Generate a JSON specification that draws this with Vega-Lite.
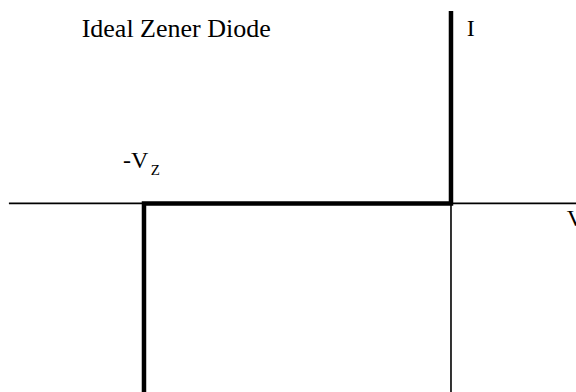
{
  "$schema": "https://vega.github.io/schema/vega-lite/v6.json",
  "width": 576,
  "height": 392,
  "autosize": {"type": "none"},
  "padding": 0,
  "background": "white",
  "config": {"view": {"stroke": null}, "text": {"font": "Times New Roman"}},
  "datasets": {
    "axes": [
      {"name": "V axis", "v": -7.2, "v2": 2.04, "i": 0, "i2": 0},
      {"name": "I axis", "v": 0, "v2": 0, "i": -2.94, "i2": 3.0}
    ],
    "curve": [
      {"order": 1, "v": -5, "i": -2.94},
      {"order": 2, "v": -5, "i": 0},
      {"order": 3, "v": 0, "i": 0},
      {"order": 4, "v": 0, "i": 3.0}
    ],
    "labels": [
      {"kind": "title", "text": "Ideal Zener Diode", "v": -6.015, "i": 2.6},
      {"kind": "main", "text": "I", "v": 0.256, "i": 2.615},
      {"kind": "main", "text": "V", "v": 1.884, "i": -0.351},
      {"kind": "main", "text": "-V", "v": -5.342, "i": 0.553},
      {"kind": "sub", "text": "Z", "v": -4.891, "i": 0.436}
    ]
  },
  "encoding": {
    "x": {"field": "v", "type": "quantitative", "scale": {"domain": [-7.345, 2.036], "nice": false, "zero": false}, "axis": null},
    "y": {"field": "i", "type": "quantitative", "scale": {"domain": [-2.94, 3.17], "nice": false, "zero": false}, "axis": null}
  },
  "layer": [
    {
      "data": {"name": "axes"},
      "mark": {"type": "rule", "color": "black", "strokeWidth": 1.6},
      "encoding": {
        "x2": {"field": "v2"},
        "y2": {"field": "i2"}
      }
    },
    {
      "data": {"name": "curve"},
      "mark": {"type": "line", "color": "black", "strokeWidth": 4.5, "strokeJoin": "miter", "strokeCap": "butt"},
      "encoding": {
        "order": {"field": "order", "type": "quantitative"}
      }
    },
    {
      "data": {"name": "labels"},
      "transform": [{"filter": "datum.kind === 'title'"}],
      "mark": {"type": "text", "font": "Liberation Serif, Times New Roman, Times, serif", "fontSize": 26, "align": "left", "baseline": "alphabetic", "color": "black"},
      "encoding": {"text": {"field": "text"}}
    },
    {
      "data": {"name": "labels"},
      "transform": [{"filter": "datum.kind === 'main'"}],
      "mark": {"type": "text", "font": "Liberation Serif, Times New Roman, Times, serif", "fontSize": 24, "align": "left", "baseline": "alphabetic", "color": "black"},
      "encoding": {"text": {"field": "text"}}
    },
    {
      "data": {"name": "labels"},
      "transform": [{"filter": "datum.kind === 'sub'"}],
      "mark": {"type": "text", "font": "Liberation Serif, Times New Roman, Times, serif", "fontSize": 15, "align": "left", "baseline": "alphabetic", "color": "black"},
      "encoding": {"text": {"field": "text"}}
    }
  ]
}
